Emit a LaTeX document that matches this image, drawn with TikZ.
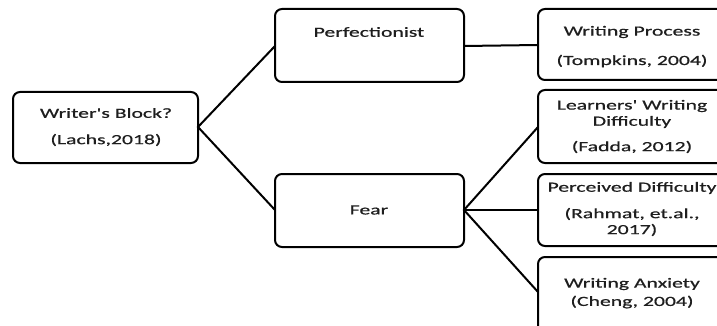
\documentclass[tikz,border=0pt]{standalone}
\usepackage{fontspec}
% Label face: no TeX ligature mapping, so ' stays a straight apostrophe
\newfontfamily\labelfont{Carlito}[FakeStretch=1.55,FakeBold=0.6]
\definecolor{ink}{HTML}{1E1E1E}
\begin{document}
\begin{tikzpicture}[x=1pt,y=-1pt,
  box/.style={draw=black,line width=2pt,rounded corners=7pt,fill=white},
  lbl/.style={text=ink,font=\labelfont\fontsize{14}{16}\selectfont,inner sep=0pt,anchor=center},
  link/.style={draw=black,line width=2pt}]
\useasboundingbox (0,0) rectangle (717,326);

% boxes
\draw[box] (13,92) rectangle (198,163);
\draw[box] (275,9) rectangle (464,82);
\draw[box] (275,174) rectangle (464,247);
\draw[box] (538,9) rectangle (728,80);
\draw[box] (538,90) rectangle (728,163);
\draw[box] (538,174) rectangle (728,246);
\draw[box] (538,257) rectangle (728,345);

% connection points on the box sides
\coordinate (wbR) at (198,127);
\coordinate (peL) at (275,46);
\coordinate (peR) at (464,46);
\coordinate (feL) at (275,210);
\coordinate (feR) at (464,210);
\coordinate (wpL) at (538,45);
\coordinate (lwL) at (538,127);
\coordinate (pdL) at (538,210);
\coordinate (waL) at (538,292);

\draw[link] (peL) -- (wbR) -- (feL);
\draw[link] (peR) -- (wpL);
\draw[link] (lwL) -- (feR) -- (waL);
\draw[link] (feR) -- (pdL);

% texts
\node[lbl] (wb1) at (106,113) {Writer's Block?};
\node[lbl] (wb2) at (106,140) {(Lachs,2018)};
\node[lbl] (pe) at (369,32) {Perfectionist};
\node[lbl] (fe) at (369,210) {Fear};
\node[lbl] (wp1) at (632,32) {Writing Process};
\node[lbl] (wp2) at (632,61) {(Tompkins, 2004)};
\node[lbl] (lw1) at (632,106) {Learners' Writing};
\node[lbl] (lw2) at (632,122) {Difficulty};
\node[lbl] (lw3) at (632,147) {(Fadda, 2012)};
\node[lbl] (pd1) at (632,188) {Perceived Difficulty};
\node[lbl] (pd2) at (632,214) {(Rahmat, et.al.,};
\node[lbl] (pd3) at (632,230) {2017)};
\node[lbl] (wa1) at (632,284) {Writing Anxiety};
\node[lbl] (wa2) at (632,302) {(Cheng, 2004)};
\end{tikzpicture}
\end{document}
